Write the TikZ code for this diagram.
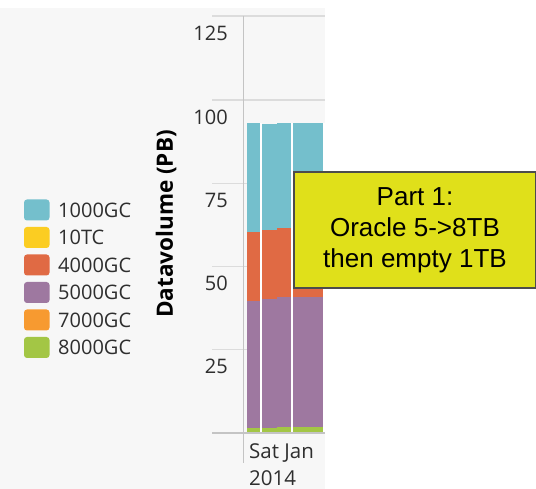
\documentclass[tikz,border=0pt]{standalone}
\usepackage{fontspec}
\setmainfont{Open Sans}
\newfontfamily\notefont{Liberation Sans}
\definecolor{gcA}{HTML}{74BFCC}
\definecolor{tcA}{HTML}{FBCD22}
\definecolor{gcB}{HTML}{E06A44}
\definecolor{gcC}{HTML}{9E78A0}
\definecolor{gcD}{HTML}{F79A30}
\definecolor{gcE}{HTML}{A3C645}
\definecolor{chartbg}{HTML}{F7F7F7}
\definecolor{gridgray}{HTML}{DCDCDC}
\definecolor{axisgray}{HTML}{C4C4C4}
\definecolor{labelgray}{HTML}{2E2E2E}
\definecolor{noteyellow}{HTML}{E0E01A}
\begin{document}
\begin{tikzpicture}[x=1pt,y=-1pt,
    gridline/.style={draw=gridgray,line width=1.3pt},
    ticklabel/.style={anchor=east,inner sep=0pt,text=labelgray,font=\fontsize{20}{20}\selectfont},
    legtext/.style={anchor=west,inner sep=0pt,text=labelgray,font=\fontsize{20}{20}\selectfont},
    notebox/.style={draw=black!70,line width=1.5pt,fill=noteyellow,align=center,
        minimum width=242pt,minimum height=116pt,inner sep=0pt,
        font=\notefont\fontsize{26}{31}\selectfont}]
\useasboundingbox (0,0) rectangle (536,489);
\fill[white] (0,0) rectangle (536,489);
\fill[chartbg] (0,8) rectangle (325,489);

% grid
\foreach \y in {16,100,183.5,266.5,349.5}
    \draw[gridline] (212,\y) -- (325,\y);
\foreach \v/\y in {125/16,100/100,75/183.5,50/266.5,25/349.5}
    \node[ticklabel] (tick\v) at (228,\y+17) {\v};

% stacked columns
\foreach \xa/\xb/\g/\p/\o/\b in {246.5/259.5/428/300.7/231.7/122.7,
        261.5/276.5/428/299/230/124.3,
        276.5/291.2/426.5/297.3/228.3/122.7,
        293.3/322.7/426.5/297.3/228.3/122.7}{
    \fill[gcE] (\xa,433) rectangle (\xb,\g);
    \fill[gcC] (\xa,\g) rectangle (\xb,\p);
    \fill[gcB] (\xa,\p) rectangle (\xb,\o);
    \fill[gcA] (\xa,\o) rectangle (\xb,\b);
}
\foreach \x in {260.5,292.3,323.8}
    \draw[white,line width=2pt] (\x,122.7) -- (\x,433);

\draw[axisgray,line width=1.3pt] (212,433) -- (325,433);
\draw[axisgray,line width=1.3pt] (243.3,16) -- (243.3,463);

\node[rotate=90,inner sep=0pt,text=black,font=\bfseries\fontsize{22.5}{22.5}\selectfont] (ylabel) at (166,224) {Datavolume (PB)};
\node[legtext,font=\fontsize{20.5}{20.5}\selectfont] (xday) at (249,453) {Sat Jan};
\node[legtext,font=\fontsize{20.5}{20.5}\selectfont] (xyear) at (249,478) {2014};

% legend
\foreach \name/\col [count=\i] in {1000GC/gcA,10TC/tcA,4000GC/gcB,5000GC/gcC,7000GC/gcD,8000GC/gcE}{
    \fill[\col,rounded corners=3pt] (24,{182.5+27.5*\i-10.5}) rectangle (49.5,{182.5+27.5*\i+10.5});
    \node[legtext] (leg\i) at (58,{182.5+27.5*\i}) {\name};
}

\node[notebox] (note) at (415,230) {Part 1:\\Oracle 5->8TB\\then empty 1TB};
\end{tikzpicture}
\end{document}
